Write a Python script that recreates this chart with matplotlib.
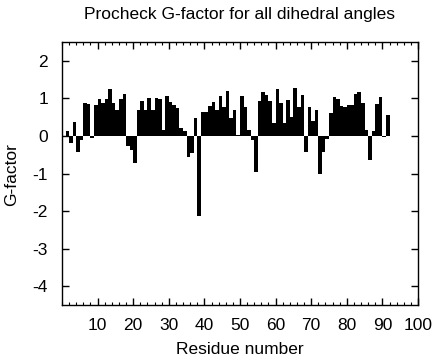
import matplotlib
matplotlib.use("Agg")
import matplotlib.pyplot as plt
from matplotlib.ticker import MultipleLocator

plt.rcParams['font.family'] = ['Liberation Sans', 'DejaVu Sans']
plt.rcParams['axes.unicode_minus'] = False

title = "Procheck G-factor for all dihedral angles"
xlabel = "Residue number"
ylabel = "G-factor"

residues = list(range(1, 92))
g_factor = [
    0.12, -0.20, 0.37, -0.42, -0.10, 0.87, 0.84, -0.05, 0.83, 0.99,
    0.87, 0.99, 1.24, 0.87, 0.69, 0.99, 1.12, -0.26, -0.37, -0.73,
    0.69, 0.94, 0.69, 1.00, 0.69, 1.00, 0.98, 0.16, 1.07, 0.89,
    0.83, 0.74, 0.22, 0.13, -0.55, -0.46, 0.47, -2.12, 0.63, 0.63,
    0.80, 0.89, 0.68, 1.07, 0.78, 1.19, 0.47, 0.68, 0.02, 1.05,
    0.76, 0.16, -0.10, -0.95, 0.92, 1.18, 1.09, 0.92, 0.35, 1.24,
    0.87, 0.35, 0.96, 0.51, 1.27, 0.76, 1.09, -0.42, 0.76, 0.41,
    0.69, -1.00, -0.42, -0.08, 0.60, 1.03, 0.98, 0.80, 0.76, 0.83,
    0.83, 1.12, 1.16, 0.87, 0.16, -0.64, 0.13, 0.85, 1.03, -0.04,
    0.56,
]
xticks = [10, 20, 30, 40, 50, 60, 70, 80, 90, 100]
yticks = [-4, -3, -2, -1, 0, 1, 2]

fig = plt.figure(figsize=(4.32, 3.6), dpi=100)
ax = fig.add_axes([62/432, 1-305/360, (418-62)/432, (305-42)/360])

ax.bar(residues, g_factor, width=1.0, align='edge', color='black',
       edgecolor='none', linewidth=0)

ax.set_xlim(0, 100)
ax.set_ylim(-4.5, 2.5)
ax.set_xticks(xticks)
ax.set_xticklabels([str(t) for t in xticks])
ax.set_yticks(yticks)
ax.set_yticklabels([str(t) for t in yticks])
ax.xaxis.set_minor_locator(MultipleLocator(2))

ax.tick_params(axis='both', which='major', direction='in', length=5, width=1,
               top=True, right=True, labelsize=12.5)
ax.tick_params(axis='x', which='major', pad=9)
ax.tick_params(axis='y', which='major', pad=10)
ax.tick_params(axis='x', which='minor', direction='in', length=2.5, width=0.8,
               top=True, bottom=True)
for s in ax.spines.values():
    s.set_linewidth(1.0)

fig.text(240/432, 1-14/360, title, ha='center', va='center', fontsize=12.5)
fig.text(240/432, 1-350/360, xlabel, ha='center', va='center', fontsize=12.5)
fig.text(12/432, 1-175/360, ylabel, ha='center', va='center', rotation=90,
         fontsize=12.5)

fig.savefig("out.png", dpi=100)
